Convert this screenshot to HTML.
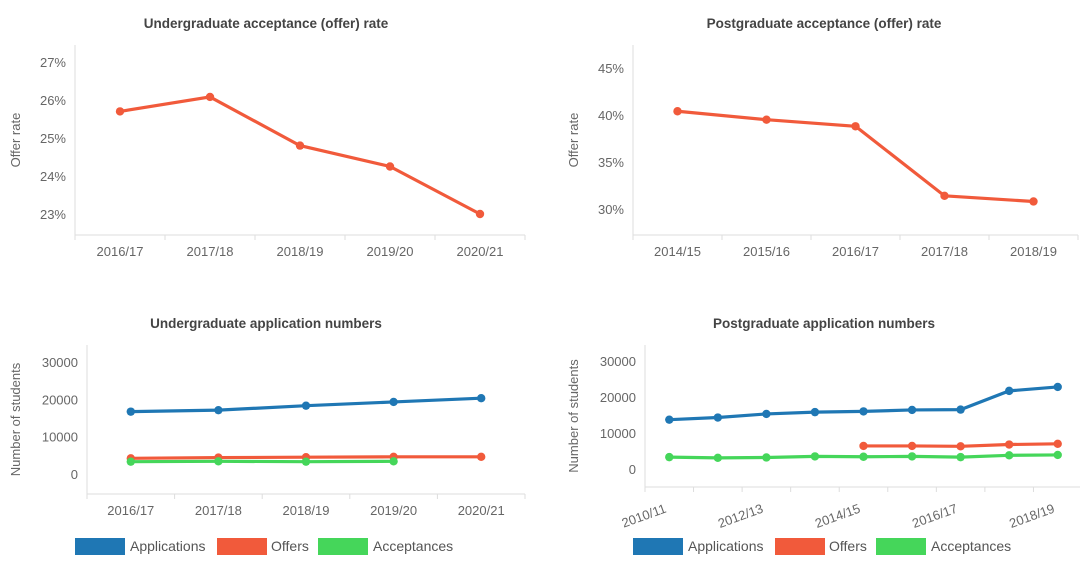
<!DOCTYPE html>
<html><head><meta charset="utf-8">
<style>
body{margin:0;background:#fff;width:1080px;height:571px;overflow:hidden;font-family:"Liberation Sans",Arial,sans-serif}
svg text{font-family:"Liberation Sans",Arial,sans-serif}
</style></head>
<body>
<svg id="c" width="1080" height="571" xmlns="http://www.w3.org/2000/svg"></svg>
<script>
// ---- data ----
const ugRateCats = ["2016/17","2017/18","2018/19","2019/20","2020/21"];
const ugRateVals = [25.7, 26.08, 24.8, 24.25, 23.0];
const ugRateTicks = [23,24,25,26,27];
const pgRateCats = ["2014/15","2015/16","2016/17","2017/18","2018/19"];
const pgRateVals = [40.4, 39.5, 38.8, 31.4, 30.8];
const pgRateTicks = [30,35,40,45];
const ugNumCats = ["2016/17","2017/18","2018/19","2019/20","2020/21"];
const ugApps = [16700, 17100, 18300, 19300, 20300];
const ugOffers = [4200, 4400, 4500, 4600, 4600];
const ugAccept = [3300, 3400, 3300, 3400, null];
const pgNumCats = ["2010/11","2011/12","2012/13","2013/14","2014/15","2015/16","2016/17","2017/18","2018/19"];
const pgApps = [13700, 14300, 15300, 15800, 16000, 16400, 16500, 21700, 22800];
const pgOffers = [null, null, null, null, 6400, 6400, 6300, 6800, 7000];
const pgAccept = [3300, 3100, 3200, 3500, 3400, 3500, 3300, 3800, 3900];
const numTicks = [0,10000,20000,30000];

const BLUE="#1f77b4", ORANGE="#f15a3b", GREEN="#45d65a";
const svg=document.getElementById('c');
const NS="http://www.w3.org/2000/svg";
function mk(tag,attrs,name,txt){
  const e=document.createElementNS(NS,tag);
  for(const k in attrs)e.setAttribute(k,attrs[k]);
  
  
  if(txt!==undefined)e.textContent=txt;
  svg.appendChild(e);return e;
}
function chart(o){
  const yScale=v=>o.y0px+(v-o.v0)*(o.y1px-o.y0px)/(o.v1-o.v0);
  const band=(o.x1-o.x0)/o.cats.length;
  const xScale=i=>o.x0+band*(i+0.5);
  mk('text',{x:o.tx,y:o.ty,'text-anchor':'middle','font-size':13.5,'font-weight':'bold',fill:'#444'},o.key+'-title',o.title);
  mk('line',{x1:o.x0,y1:o.top,x2:o.x0,y2:o.base,stroke:'#ddd'},o.key+'-y-axis');
  mk('line',{x1:o.x0,y1:o.base,x2:o.x1,y2:o.base,stroke:'#ddd'},o.key+'-x-axis');
  o.ticks.forEach(t=>{
    const y=yScale(t);
    mk('text',{x:o.x0-9,y:y+5,'text-anchor':'end','font-size':13,fill:'#666'},o.key+'-y-tick',o.fmt(t));
  });
  mk('text',{transform:`translate(${o.x0-o.ytOff},${(o.top+o.base)/2}) rotate(-90)`,'text-anchor':'middle','font-size':13,fill:'#666'},o.key+'-y-axis-title',o.ytitle);
  for(let i=0;i<=o.cats.length;i++){
    const x=o.x0+band*i;
    mk('line',{x1:x,y1:o.base,x2:x,y2:o.base+5,stroke:'#ddd'},o.key+'-x-tick-mark');
  }
  o.cats.forEach((c,i)=>{
    if(o.rotate){
      if(i%2)return;
      const x=o.x0+band*i+22, y=o.base+25;
      mk('text',{transform:`translate(${x},${y}) rotate(-20)`,'text-anchor':'end','font-size':13,fill:'#666'},o.key+'-x-tick',c);
    } else {
      mk('text',{x:xScale(i),y:o.base+21,'text-anchor':'middle','font-size':13,fill:'#666'},o.key+'-x-tick',c);
    }
  });
  o.series.forEach(s=>{
    let d='';
    s.vals.forEach((v,i)=>{ if(v==null)return; d+=(d?'L':'M')+xScale(i)+','+yScale(v); });
    mk('path',{d:d,fill:'none',stroke:s.color,'stroke-width':3.2},o.key+'-line-'+s.name);
    s.vals.forEach((v,i)=>{ if(v==null)return;
      mk('circle',{cx:xScale(i),cy:yScale(v),r:4.2,fill:s.color},o.key+'-point-'+s.name);
    });
  });
}
chart({key:'ug-rate',title:'Undergraduate acceptance (offer) rate',tx:266,ty:28,x0:75,x1:525,top:45,base:235,
  v0:27,v1:23,y0px:62,y1px:214,ticks:ugRateTicks,fmt:t=>t+'%',ytitle:'Offer rate',ytOff:55,cats:ugRateCats,
  series:[{name:'offer-rate',color:ORANGE,vals:ugRateVals}]});
chart({key:'pg-rate',title:'Postgraduate acceptance (offer) rate',tx:824,ty:28,x0:633,x1:1078,top:45,base:235,
  v0:45,v1:30,y0px:68,y1px:209,ticks:pgRateTicks,fmt:t=>t+'%',ytitle:'Offer rate',ytOff:55,cats:pgRateCats,
  series:[{name:'offer-rate',color:ORANGE,vals:pgRateVals}]});
chart({key:'ug-num',title:'Undergraduate application numbers',tx:266,ty:328,x0:87,x1:525,top:345,base:494,
  v0:30000,v1:0,y0px:362,y1px:474,ticks:numTicks,fmt:t=>t,ytitle:'Number of students',ytOff:67,cats:ugNumCats,
  series:[{name:'offers',color:ORANGE,vals:ugOffers},{name:'acceptances',color:GREEN,vals:ugAccept},{name:'applications',color:BLUE,vals:ugApps}]});
chart({key:'pg-num',title:'Postgraduate application numbers',tx:824,ty:328,x0:645,x1:1082,top:345,base:487,
  v0:30000,v1:0,y0px:361,y1px:469,ticks:numTicks,fmt:t=>t,ytitle:'Number of students',ytOff:67,cats:pgNumCats,rotate:true,
  series:[{name:'offers',color:ORANGE,vals:pgOffers},{name:'acceptances',color:GREEN,vals:pgAccept},{name:'applications',color:BLUE,vals:pgApps}]});
function legend(key,x0,y){
  const items=[["Applications",BLUE,0,55],["Offers",ORANGE,142,196],["Acceptances",GREEN,243,298]];
  items.forEach(it=>{
    const r=mk('rect',{x:x0+it[2],y:y-8,width:50,height:17,fill:it[1]},key+'-legend-swatch');
    
    const t=mk('text',{x:x0+it[3],y:y+5,'font-size':14,fill:'#555'},key+'-legend-entry',it[0]);
    
  });
}
legend('ug-num',75,546);
legend('pg-num',633,546);
</script>
</body></html>
